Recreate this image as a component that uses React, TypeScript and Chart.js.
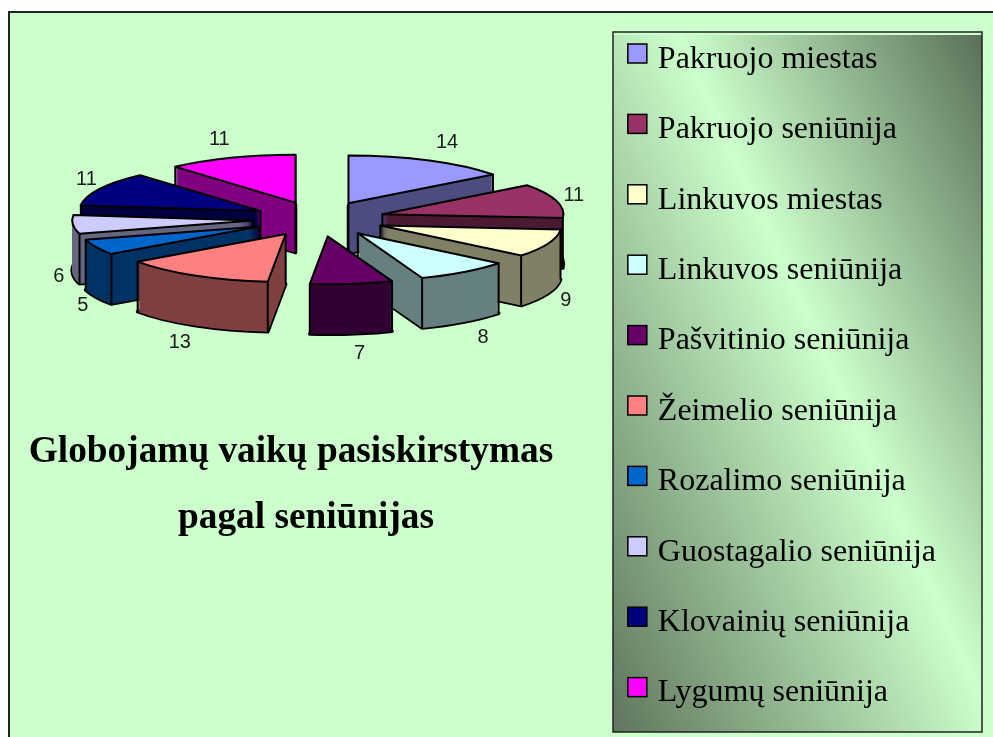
import React, { useEffect, useRef } from "react";
import { Chart, registerables } from "chart.js";

Chart.register(...registerables);

const districts = [
  "Pakruojo miestas",
  "Pakruojo seniūnija",
  "Linkuvos miestas",
  "Linkuvos seniūnija",
  "Pašvitinio seniūnija",
  "Žeimelio seniūnija",
  "Rozalimo seniūnija",
  "Guostagalio seniūnija",
  "Klovainių seniūnija",
  "Lygumų seniūnija",
];
const children = [14, 11, 9, 8, 7, 13, 5, 6, 11, 11];
const sliceColors = ["#9999FF", "#993366", "#FFFFCC", "#CCFFFF", "#660066", "#FF8080", "#0066CC", "#CCCCFF", "#000080", "#FF00FF"];
const sideColors = ["#4D4D80", "#4D1A33", "#808066", "#668080", "#330033", "#804040", "#003366", "#666680", "#000040", "#800080"];
const titleLines = ["Globojamų vaikų pasiskirstymas", "pagal seniūnijas"];

const WIDTH = 993;
const HEIGHT = 737;
const CANVAS_HEIGHT = 830;
const PIE = { cx: 319, cy: 219, radius: 181, squash: 0.265, depth: 50, explode: 66, labelCx: 321, labelX: 263, labelBulge: 30, labelY: 321 };
const PANEL = { left: 613, top: 32, right: 982, bottom: 732 };

const trace = (ctx: CanvasRenderingContext2D, x: number, y: number, r: number, a0: number, a1: number) => {
  ctx.beginPath();
  ctx.moveTo(x, y);
  ctx.ellipse(x, y, r, r * PIE.squash, 0, a0, a1);
  ctx.closePath();
};

const insideTop = (dx: number, dy: number, r: number, a0: number, a1: number) => {
  const py = dy / PIE.squash;
  if (Math.hypot(dx, py) >= r) return false;
  let a = Math.atan2(py, dx);
  while (a < a0) a += Math.PI * 2;
  return a < a1;
};

const backgroundPlugin = {
  id: "slideBackground",
  beforeDraw(chart: any) {
    const { ctx } = chart;
    ctx.save();
    ctx.fillStyle = "#FFFFFF";
    ctx.fillRect(0, 0, chart.width, chart.height);
    ctx.fillStyle = "#CCFFCC";
    ctx.fillRect(9, 12, chart.width - 9, chart.height - 12);
    ctx.strokeStyle = "#222222";
    ctx.lineWidth = 2;
    ctx.beginPath();
    ctx.moveTo(9, chart.height);
    ctx.lineTo(9, 12);
    ctx.lineTo(chart.width, 12);
    ctx.stroke();

    const { left, top, right, bottom } = PANEL;
    const w = right - left;
    const h = bottom - top;
    const g = ctx.createLinearGradient(1088, 270, 520, 529);
    g.addColorStop(0, "#5A7058");
    g.addColorStop(0.44, "#CCFFCC");
    g.addColorStop(1, "#5F755C");
    ctx.fillStyle = g;
    ctx.fillRect(left, top + 3, w, h - 3);
    ctx.strokeStyle = "#222222";
    ctx.lineWidth = 1.5;
    ctx.strokeRect(left, top, w, h);
    ctx.restore();
  },
};

const pie3dPlugin = {
  id: "pie3d",
  beforeDatasetDraw(chart: any) {
    const { ctx } = chart;
    const arcs = chart.getDatasetMeta(0).data.map((el: any, i: number) => ({ el, i }));
    const mid = (el: any) => (el.startAngle + el.endAngle) / 2;
    arcs.sort((a: any, b: any) => Math.sin(mid(a.el)) - Math.sin(mid(b.el)));
    ctx.save();
    ctx.lineJoin = "round";
    for (const { el, i } of arcs) {
      const a = mid(el);
      const x = PIE.cx + Math.cos(a) * PIE.explode;
      const y = PIE.cy + Math.sin(a) * PIE.explode * PIE.squash;
      const r = el.outerRadius;
      const { startAngle: a0, endAngle: a1 } = el;

      ctx.strokeStyle = "#000000";
      ctx.lineWidth = 3.5;
      trace(ctx, x, y + PIE.depth, r, a0, a1);
      ctx.stroke();
      ctx.fillStyle = sideColors[i];
      for (let d = PIE.depth; d > 0; d--) {
        trace(ctx, x, y + d, r, a0, a1);
        ctx.fill();
      }
      ctx.lineWidth = 2;
      const corners = [
        [x, y],
        [x + Math.cos(a0) * r * 0.999, y + Math.sin(a0) * r * PIE.squash * 0.999],
        [x + Math.cos(a1) * r * 0.999, y + Math.sin(a1) * r * PIE.squash * 0.999],
      ];
      for (const [px, py] of corners) {
        if (insideTop(px - x, py + 2 - y, r, a0, a1)) continue;
        ctx.beginPath();
        ctx.moveTo(px, py);
        ctx.lineTo(px, py + PIE.depth);
        ctx.stroke();
      }
      ctx.fillStyle = sliceColors[i];
      trace(ctx, x, y, r, a0, a1);
      ctx.fill();
      ctx.stroke();
    }
    ctx.restore();
    return false;
  },
};

const annotationPlugin = {
  id: "annotations",
  afterDraw(chart: any) {
    const { ctx } = chart;
    ctx.save();
    ctx.fillStyle = "#1A1A1A";
    ctx.font = '20px "Liberation Sans"';
    ctx.textAlign = "center";
    ctx.textBaseline = "middle";
    chart.getDatasetMeta(0).data.forEach((el: any, i: number) => {
      const a = (el.startAngle + el.endAngle) / 2;
      const s = Math.sin(a);
      const reach = PIE.labelX + PIE.labelBulge * s * s * s * s;
      const lx = PIE.labelCx + Math.cos(a) * reach;
      const ly = PIE.cy + s * PIE.labelY * PIE.squash + (s > 0 ? PIE.depth : 0);
      ctx.fillText(String(children[i]), lx, ly);
    });

    ctx.fillStyle = "#000000";
    ctx.font = 'bold 37.3px "Liberation Serif"';
    ctx.textBaseline = "alphabetic";
    ctx.fillText(titleLines[0], 291, 462);
    ctx.fillText(titleLines[1], 306, 528);

    const legend = chart.legend;
    legend.legendHitBoxes.forEach((box: any, i: number) => {
      const size = 19;
      const top = box.top + 0.6;
      ctx.fillStyle = sliceColors[i];
      ctx.strokeStyle = "#000000";
      ctx.lineWidth = 1.5;
      ctx.fillRect(box.left, top, size, size);
      ctx.strokeRect(box.left, top, size, size);
    });
    ctx.restore();
  },
};

export default function App() {
  const ref = useRef<HTMLCanvasElement>(null);
  useEffect(() => {
    const chart = new Chart(ref.current as HTMLCanvasElement, {
      type: "pie",
      data: {
        labels: districts,
        datasets: [
          {
            data: children,
            backgroundColor: sliceColors,
            borderColor: "#000000",
            borderWidth: 1,
          },
        ],
      },
      options: {
        responsive: false,
        animation: false,
        radius: PIE.radius,
        layout: { padding: { top: 5, right: 47 } },
        plugins: {
          tooltip: { enabled: false },
          title: { display: false },
          legend: {
            position: "right",
            align: "start",
            labels: {
              font: { family: '"Liberation Serif"', size: 32 },
              color: "#000000",
              boxWidth: 14,
              boxHeight: 6,
              padding: 38.4,
            },
          },
        },
      } as any,
      plugins: [backgroundPlugin, pie3dPlugin, annotationPlugin],
    });
    return () => chart.destroy();
  }, []);
  return (
    <div style={{ position: "fixed", left: 0, top: 0, width: WIDTH, height: HEIGHT, overflow: "hidden" }}>
      <canvas ref={ref} width={WIDTH} height={CANVAS_HEIGHT} style={{ display: "block" }} />
    </div>
  );
}
